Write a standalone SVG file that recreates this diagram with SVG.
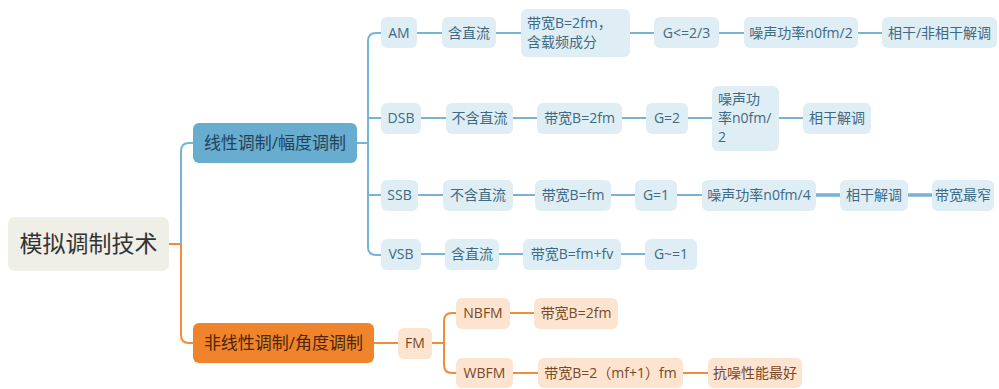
<svg xmlns="http://www.w3.org/2000/svg" width="999" height="389" viewBox="0 0 999 389">
<style>
.b rect{fill:#dfedf5}
.b text{fill:#3d6a84}
.o rect{fill:#fde4d0}
.o text{fill:#7a4824}
text{font-family:"Open Sans","Noto Sans CJK SC",sans-serif;font-size:14px}
.c{text-anchor:middle}
.lb{fill:none;stroke:#76b3d4;stroke-width:2}
.lo{fill:none;stroke:#f08c3a;stroke-width:2}
</style>
<rect width="999" height="389" fill="#ffffff"/>
<g id="connectors">
<path class="lo" d="M169,244 H181"/>
<path class="lb" d="M181,244 V151 Q181,143 189,143 H194"/>
<path class="lo" d="M181,244 V335 Q181,343 189,343 H194"/>
<path class="lb" d="M357,143 H368"/>
<path class="lb" d="M381,33 H376 Q368,33 368,41 V247 Q368,255 376,255 H381"/>
<path class="lb" d="M368,118 H381 M368,195 H381"/>
<path class="lb" d="M417,33 H442 M496,33 H521 M630,33 H654 M719,33 H744 M858,33 H882"/>
<path class="lb" d="M421,118 H446 M513,118 H537 M622,118 H646 M688,118 H712 M779,118 H803"/>
<path class="lb" d="M418,195 H443 M513,195 H535 M611,195 H635 M677,195 H702"/>
<path class="lb" d="M816,195 H840 M908,195 H932" style="stroke-width:3.5"/>
<path class="lb" d="M421,254 H445 M499,254 H523 M621,254 H645"/>
<path class="lo" d="M374,343 H398 M432,343 H444"/>
<path class="lo" d="M456,313 H452 Q444,313 444,321 V365 Q444,373 452,373 H456"/>
<path class="lo" d="M510,313 H534 M513,373 H538 M683,373 H708"/>
</g>
<g id="root"><rect x="8" y="217" width="161" height="54" rx="7" fill="#efefe7"/><text x="88.5" y="252" class="c" style="font-size:23px;fill:#333">模拟调制技术</text></g>
<g id="linear"><rect x="193" y="123" width="164" height="40" rx="6" fill="#68acd0"/><text x="275" y="149" class="c" style="font-size:17px;fill:#234458">线性调制/幅度调制</text></g>
<g id="nonlinear"><rect x="193" y="323" width="181" height="40" rx="6" fill="#f0842c"/><text x="283.5" y="349" class="c" style="font-size:17px;fill:#4e2508">非线性调制/角度调制</text></g>

<g id="am" class="b"><rect x="381" y="17" width="36" height="31" rx="6"/><text x="399" y="38" class="c">AM</text></g>
<g id="am1" class="b"><rect x="442" y="17" width="54" height="31" rx="6"/><text x="469" y="38" class="c">含直流</text></g>
<g id="am2" class="b"><rect x="521" y="9" width="109" height="48" rx="6"/><text x="527" y="28">带宽B=2fm，</text><text x="527" y="47">含载频成分</text></g>
<g id="am3" class="b"><rect x="654" y="17" width="65" height="31" rx="6"/><text x="686.5" y="38" class="c">G&lt;=2/3</text></g>
<g id="am4" class="b"><rect x="744" y="17" width="114" height="31" rx="6"/><text x="801" y="38" class="c">噪声功率n0fm/2</text></g>
<g id="am5" class="b"><rect x="882" y="17" width="115" height="31" rx="6"/><text x="939.5" y="38" class="c">相干/非相干解调</text></g>

<g id="dsb" class="b"><rect x="381" y="103" width="40" height="31" rx="6"/><text x="401" y="123" class="c">DSB</text></g>
<g id="dsb1" class="b"><rect x="446" y="103" width="67" height="31" rx="6"/><text x="479.5" y="123" class="c">不含直流</text></g>
<g id="dsb2" class="b"><rect x="537" y="103" width="85" height="31" rx="6"/><text x="579.5" y="123" class="c">带宽B=2fm</text></g>
<g id="dsb3" class="b"><rect x="646" y="103" width="42" height="31" rx="6"/><text x="667" y="123" class="c">G=2</text></g>
<g id="dsb4" class="b"><rect x="712" y="86" width="67" height="65" rx="6"/><text x="718" y="104">噪声功</text><text x="718" y="123">率n0fm/</text><text x="718" y="142">2</text></g>
<g id="dsb5" class="b"><rect x="803" y="103" width="68" height="31" rx="6"/><text x="837" y="123" class="c">相干解调</text></g>

<g id="ssb" class="b"><rect x="381" y="180" width="37" height="31" rx="6"/><text x="399.5" y="200" class="c">SSB</text></g>
<g id="ssb1" class="b"><rect x="443" y="180" width="70" height="31" rx="6"/><text x="478" y="200" class="c">不含直流</text></g>
<g id="ssb2" class="b"><rect x="535" y="180" width="76" height="31" rx="6"/><text x="573" y="200" class="c">带宽B=fm</text></g>
<g id="ssb3" class="b"><rect x="635" y="180" width="42" height="31" rx="6"/><text x="656" y="200" class="c">G=1</text></g>
<g id="ssb4" class="b"><rect x="702" y="180" width="114" height="31" rx="6"/><text x="759" y="200" class="c">噪声功率n0fm/4</text></g>
<g id="ssb5" class="b"><rect x="840" y="180" width="68" height="31" rx="6"/><text x="874" y="200" class="c">相干解调</text></g>
<g id="ssb6" class="b"><rect x="932" y="180" width="62" height="31" rx="6"/><text x="963" y="200" class="c">带宽最窄</text></g>

<g id="vsb" class="b"><rect x="381" y="239" width="40" height="31" rx="6"/><text x="401" y="259" class="c">VSB</text></g>
<g id="vsb1" class="b"><rect x="445" y="239" width="54" height="31" rx="6"/><text x="472" y="259" class="c">含直流</text></g>
<g id="vsb2" class="b"><rect x="523" y="239" width="98" height="31" rx="6"/><text x="572" y="259" class="c">带宽B=fm+fv</text></g>
<g id="vsb3" class="b"><rect x="645" y="239" width="52" height="31" rx="6"/><text x="671" y="259" class="c">G~=1</text></g>

<g id="fm" class="o"><rect x="398" y="328" width="34" height="31" rx="6"/><text x="415" y="348" class="c">FM</text></g>
<g id="nbfm" class="o"><rect x="456" y="298" width="54" height="31" rx="6"/><text x="483" y="318" class="c">NBFM</text></g>
<g id="nbfm1" class="o"><rect x="534" y="298" width="84" height="31" rx="6"/><text x="576" y="318" class="c">带宽B=2fm</text></g>
<g id="wbfm" class="o"><rect x="456" y="358" width="57" height="30" rx="6"/><text x="484.5" y="378" class="c">WBFM</text></g>
<g id="wbfm1" class="o"><rect x="538" y="358" width="145" height="30" rx="6"/><text x="610.5" y="378" class="c">带宽B=2（mf+1）fm</text></g>
<g id="wbfm2" class="o"><rect x="708" y="358" width="94" height="30" rx="6"/><text x="755" y="378" class="c">抗噪性能最好</text></g>
</svg>
